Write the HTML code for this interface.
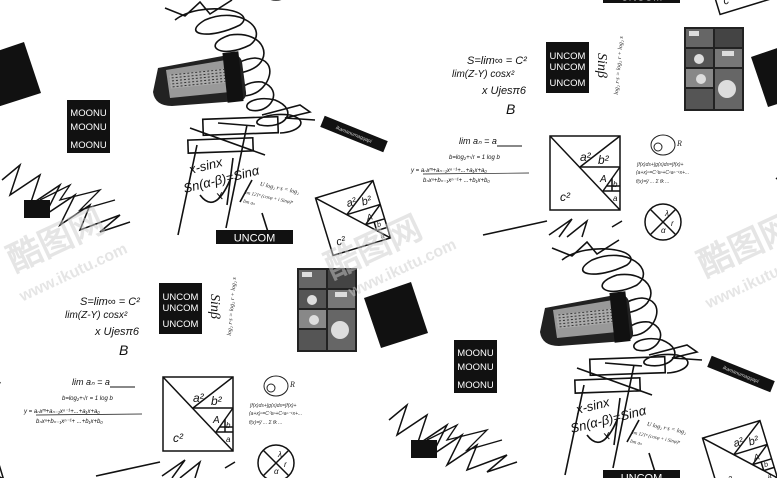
<!DOCTYPE html>
<html><head><meta charset="utf-8"><style>
html,body{margin:0;padding:0;background:#fff;width:777px;height:478px;overflow:hidden}
svg{display:block}
text{font-family:"Liberation Sans",sans-serif}
.h{font-family:"Liberation Serif",serif;font-style:italic}
</style></head><body>
<svg width="777" height="478" viewBox="0 0 777 478" xmlns="http://www.w3.org/2000/svg">
<defs>
<pattern id="dots" width="4" height="3" patternUnits="userSpaceOnUse"><rect width="4" height="3" fill="#aaa"/><rect width="2" height="1" fill="#333"/></pattern>
<g id="tile">
 <path d="M175,20 C200,0 260,10 240,25 C210,40 180,35 205,20 C240,5 270,30 250,45 C220,60 200,45 230,35 C265,30 275,60 250,70 C225,80 230,60 255,58 C280,60 270,90 250,95 C230,100 240,80 262,82 C285,90 270,115 250,110 C240,105 255,95 275,100 C300,110 285,130 260,125 C250,122 265,112 290,115 C310,120 300,132 280,133" fill="none" stroke="#111" stroke-width="1.6"/>
 <path d="M165,8 L185,16 L200,2 L210,14 L232,0" fill="none" stroke="#111" stroke-width="1.6"/>
 <path d="M262,115 L300,105 L310,112 L285,118 L315,120" fill="none" stroke="#111" stroke-width="1.6"/>
 <path d="M158,68 L228,55 Q240,53 242,62 L246,92 Q247,100 238,101 L172,106 Q155,106 153,92 Z" fill="#222"/>
 <path d="M166,70 L226,60 L230,92 L170,98 Z" fill="#999"/>
 <rect x="170" y="72" width="55" height="14" fill="url(#dots)" transform="rotate(-6 195 80)"/>
 <rect x="225" y="52" width="16" height="50" fill="#111" transform="rotate(-6 233 77)"/>
 <g fill="none" stroke="#111" stroke-width="1.6">
  <rect x="203" y="118" width="75" height="16" transform="rotate(-2 240 126)"/>
  <rect x="188" y="139" width="65" height="13" transform="rotate(-2 220 145)"/>
  <line x1="190" y1="128" x2="265" y2="155"/>
  <line x1="218" y1="123" x2="255" y2="126"/>
  <line x1="197" y1="145" x2="178" y2="235"/>
  <line x1="247" y1="125" x2="226" y2="228"/>
  <line x1="233" y1="158" x2="227" y2="205"/>
  <path d="M200,195 Q215,215 230,180"/>
  <line x1="240" y1="202" x2="252" y2="180"/>
  <line x1="262" y1="213" x2="268" y2="232"/>
 </g>
 <g class="h" font-size="13" fill="#111" transform="rotate(-14 215 170)">
  <text x="190" y="168">x-sinx</text>
  <text x="180" y="185">Sn(α-β)=Sinα</text>
  <text x="210" y="200">x</text>
 </g>
 <text class="h" x="258" y="188" font-size="6" fill="#222" transform="rotate(12 270 195)">U log₂ r·s = log₂</text>
 <text class="h" x="244" y="199" font-size="5" fill="#222" transform="rotate(12 270 195)">lim 121ⁿ (cosφ + i Sinφ)ⁿ</text>
 <text class="h" x="245" y="208" font-size="5" fill="#222" transform="rotate(12 270 195)">lim aₙ</text>
 <rect x="216" y="230" width="77" height="14" fill="#111"/>
 <text x="254.5" y="241.5" font-size="11" fill="#fff" text-anchor="middle">UNCOM</text>
 <g transform="rotate(22 354 134)"><rect x="320" y="128" width="68" height="12" fill="#111"/><text x="354" y="136" font-size="5" fill="#ccc" text-anchor="middle" font-style="italic">ikamanumaqqapi</text></g>
 <g transform="rotate(-17 353 218)" fill="none" stroke="#111" stroke-width="1.5">
  <rect x="323" y="188" width="60" height="60"/>
  <line x1="323" y1="188" x2="383" y2="248"/>
  <line x1="383" y1="188" x2="348" y2="213"/>
  <line x1="348" y1="213" x2="383" y2="213"/>
  <line x1="383" y1="213" x2="363" y2="228"/>
  <line x1="363" y1="228" x2="383" y2="228"/>
  <line x1="372" y1="228" x2="372" y2="237"/>
  <line x1="372" y1="237" x2="383" y2="237"/>
  <g class="h" fill="#111" stroke="none" font-size="11"><text x="351" y="206">a²</text><text x="366" y="209">b²</text><text x="366" y="225" font-size="9">A</text><text x="374" y="234" font-size="7">b</text><text x="374" y="246" font-size="7">a</text><text x="330" y="240">c²</text></g>
 </g>
 <rect x="67" y="100" width="43" height="53" fill="#111"/>
 <g font-size="9.5" fill="#fff" text-anchor="middle"><text x="88.5" y="116">MOONU</text><text x="88.5" y="130">MOONU</text><text x="88.5" y="148">MOONU</text></g>
 <path d="M2,180 L20,165 L10,195 L40,175 L30,205 L60,185 L45,215 L75,195 L60,225 L90,205 L80,230 L120,215 L100,232 L130,222" fill="none" stroke="#111" stroke-width="1.5"/>
 <path d="M40,200 L70,185 L60,200 L100,190 L80,210 L115,200" fill="none" stroke="#111" stroke-width="1.3"/>
 <rect x="24" y="200" width="26" height="18" fill="#111"/>
 <polygon points="364,298 411,282 428,333 381,348" fill="#111"/>
 <rect x="297" y="268" width="60" height="84" fill="#222"/>
 <g><rect x="299" y="270" width="27" height="18" fill="#666"/><rect x="328" y="270" width="27" height="18" fill="#444"/><rect x="299" y="290" width="27" height="18" fill="#555"/><rect x="328" y="290" width="27" height="18" fill="#777"/><rect x="299" y="310" width="27" height="18" fill="#888"/><rect x="328" y="310" width="27" height="40" fill="#666"/><rect x="299" y="330" width="27" height="20" fill="#555"/></g>
 <g fill="#ddd"><circle cx="340" cy="330" r="9"/><circle cx="312" cy="300" r="5"/><circle cx="314" cy="320" r="5"/><rect x="302" y="272" width="10" height="5"/><rect x="335" y="292" width="12" height="5"/></g>
 <rect x="159" y="283" width="43" height="51" fill="#111"/>
 <g font-size="9.5" fill="#fff" text-anchor="middle"><text x="180.5" y="300">UNCOM</text><text x="180.5" y="311">UNCOM</text><text x="180.5" y="327">UNCOM</text></g>
 <text class="h" x="207" y="302" font-size="14" fill="#111" transform="rotate(90 213 300)">Sinβ</text>
 <text class="h" x="220" y="300" font-size="6" fill="#222" transform="rotate(-85 245 312)">log₂ r·s = log₂ r + log₂ s</text>
 <g class="h" fill="#111">
  <text x="80" y="305" font-size="11">S=lim∞ = C²</text>
  <text x="65" y="318" font-size="10">lim(Z-Y) cosx²</text>
  <text x="95" y="335" font-size="11">x  Ujesπ6</text>
  <text x="119" y="355" font-size="14">B</text>
 </g>
 <g class="h" fill="#111">
  <text x="72" y="385" font-size="9">lim  aₙ  =  a</text>
  <line x1="110" y1="387" x2="135" y2="387" stroke="#111"/>
  <text x="62" y="400" font-size="6">b=log₂+√r = 1 log     b</text>
  <text x="24" y="413" font-size="6">y = aₙxᵐ+aₙ₋₁xⁿ⁻¹+...+a₁x+a₀</text>
  <line x1="36" y1="415" x2="142" y2="414" stroke="#111" stroke-width=".7"/>
  <text x="36" y="423" font-size="6">bₙxⁿ+bₙ₋₁xⁿ⁻¹+ ...+b₁x+b₀</text>
 </g>
 <g fill="none" stroke="#111" stroke-width="1.5">
  <rect x="163" y="377" width="70" height="74"/>
  <line x1="163" y1="377" x2="233" y2="451"/>
  <line x1="233" y1="377" x2="193" y2="408"/>
  <line x1="193" y1="408" x2="233" y2="408"/>
  <line x1="233" y1="408" x2="216" y2="432"/>
  <line x1="220" y1="427" x2="233" y2="427"/>
  <line x1="216" y1="432" x2="233" y2="432"/>
  <line x1="225" y1="419" x2="225" y2="432"/>
  <g class="h" fill="#111" stroke="none" font-size="12"><text x="193" y="402">a²</text><text x="211" y="405">b²</text><text x="213" y="423" font-size="10">A</text><text x="226" y="428" font-size="8">b</text><text x="226" y="442" font-size="8">a</text><text x="173" y="442">c²</text></g>
 </g>
 <ellipse cx="276" cy="386" rx="12" ry="10" fill="none" stroke="#222"/>
 <circle cx="271" cy="388" r="4" fill="none" stroke="#222"/>
 <text class="h" x="290" y="387" font-size="8" fill="#222">R</text>
 <g class="h" font-size="5" fill="#333"><text x="250" y="407">∫f(x)ds+∫g(x)ds=∫f(x)+</text><text x="249" y="415">(a+x)ⁿ=C⁰aⁿ+C¹aⁿ⁻¹x+...</text><text x="249" y="424">f(x)=y̅ ... Σ fk ...</text></g>
 <g fill="none" stroke="#111" stroke-width="1.5"><circle cx="276" cy="463" r="18"/><line x1="263" y1="450" x2="289" y2="476"/><line x1="289" y1="450" x2="263" y2="476"/></g>
 <g class="h" font-size="8" fill="#111"><text x="278" y="457">λ</text><text x="284" y="467">r</text><text x="274" y="474">α</text></g>
 <line x1="96" y1="476" x2="160" y2="462" stroke="#111" stroke-width="1.6"/>
 <path d="M162,476 L185,460 L172,478 M180,478 L200,462 L195,478 M225,468 L235,462" fill="none" stroke="#111" stroke-width="1.5"/>
</g>
</defs>
<use href="#tile"/>
<use href="#tile" transform="translate(387 240)"/>
<use href="#tile" transform="translate(387 -241)"/>
<use href="#tile" transform="translate(-387 -240)"/>
<use href="#tile" transform="translate(-387 241)"/>
<use href="#tile" transform="translate(0 -481)"/>
<use href="#tile" transform="translate(0 481)"/>
<use href="#tile" transform="translate(774 -1)"/>
<use href="#tile" transform="translate(774 480)"/>
<use href="#tile" transform="translate(774 -482)"/>
<g fill="#ccc" opacity="0.5" font-family="'Liberation Sans','Noto Sans CJK SC',sans-serif" font-weight="bold">
 <g transform="rotate(-25 60 240)"><text x="5" y="250" font-size="34">酷图网</text><text x="0" y="280" font-size="16">www.ikutu.com</text></g>
 <g transform="rotate(-25 380 240)"><text x="320" y="255" font-size="34">酷图网</text><text x="330" y="280" font-size="16">www.ikutu.com</text></g>
 <g transform="rotate(-25 730 260)"><text x="700" y="265" font-size="34">酷图网</text><text x="690" y="295" font-size="16">www.ikutu.com</text></g>
</g>
</svg>
</body></html>
